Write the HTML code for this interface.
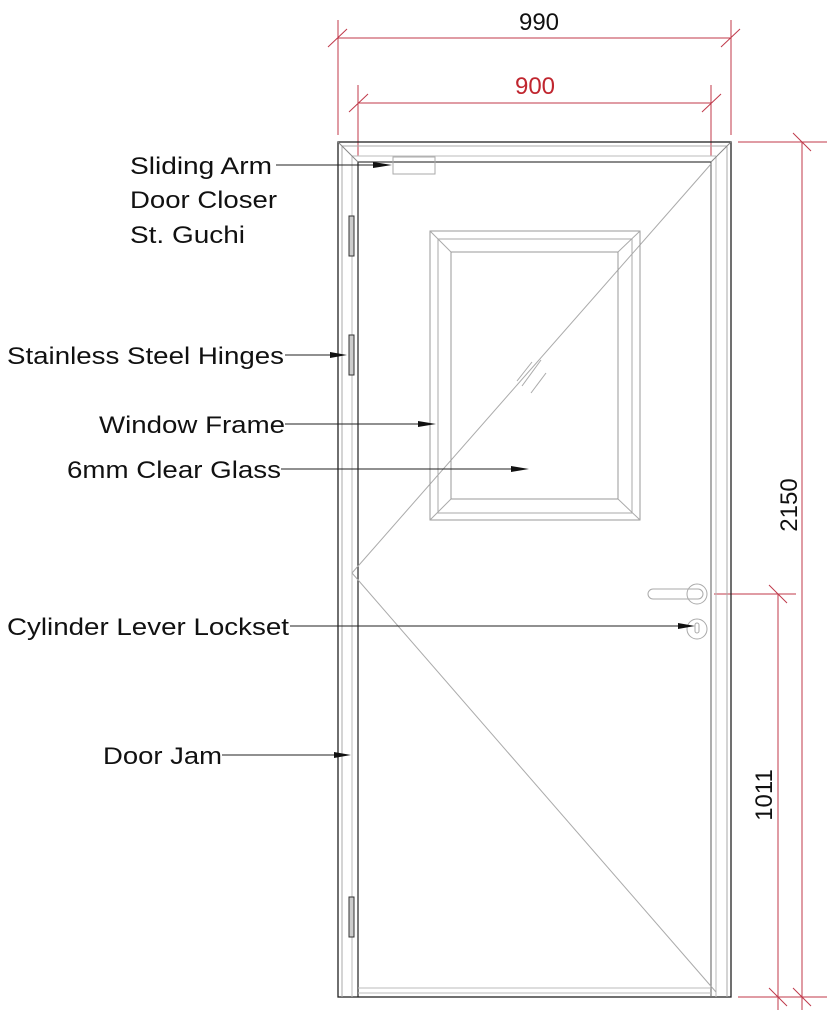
<!DOCTYPE html>
<html><head><meta charset="utf-8"><style>html,body{margin:0;padding:0;background:#fff}svg{display:block}</style></head>
<body>
<svg width="827" height="1024" viewBox="0 0 827 1024" xmlns="http://www.w3.org/2000/svg" font-family="Liberation Sans, sans-serif">
<rect width="827" height="1024" fill="#fff"/>
<g stroke="#c0394a" stroke-width="1" fill="none">
<line x1="338" y1="38" x2="731" y2="38"/>
<line x1="338" y1="20" x2="338" y2="135"/>
<line x1="731" y1="20" x2="731" y2="135"/>
<line x1="328" y1="47" x2="347" y2="29"/>
<line x1="721" y1="47" x2="740" y2="29"/>
<line x1="358" y1="103" x2="711" y2="103"/>
<line x1="358" y1="85" x2="358" y2="156"/>
<line x1="711" y1="85" x2="711" y2="156"/>
<line x1="349" y1="112" x2="368" y2="94"/>
<line x1="702" y1="112" x2="721" y2="94"/>
<line x1="738" y1="142" x2="827" y2="142"/>
<line x1="802" y1="142" x2="802" y2="1010"/>
<line x1="793" y1="133" x2="811" y2="151"/>
<line x1="738" y1="997" x2="827" y2="997"/>
<line x1="793" y1="988" x2="811" y2="1006"/>
<line x1="714" y1="594" x2="796" y2="594"/>
<line x1="778" y1="594" x2="778" y2="1010"/>
<line x1="769" y1="585" x2="787" y2="603"/>
<line x1="769" y1="988" x2="787" y2="1006"/>
</g>
<text x="539" y="30" font-size="24" text-anchor="middle" fill="#111">990</text>
<text x="535" y="94" font-size="24" text-anchor="middle" fill="#c0262f">900</text>
<text transform="translate(797,505) rotate(-90)" font-size="24" text-anchor="middle" fill="#111">2150</text>
<text transform="translate(772,795) rotate(-90)" font-size="24" text-anchor="middle" fill="#111">1011</text>
<g fill="none">
<rect x="338" y="142" width="393" height="855" stroke="#222" stroke-width="1.3"/>
<line x1="342" y1="146" x2="342" y2="997" stroke="#aaa"/>
<line x1="352" y1="156" x2="352" y2="997" stroke="#bbb"/>
<line x1="358" y1="162" x2="358" y2="997" stroke="#222" stroke-width="1.2"/>
<line x1="727" y1="146" x2="727" y2="997" stroke="#aaa"/>
<line x1="716" y1="156" x2="716" y2="997" stroke="#bbb"/>
<line x1="711" y1="162" x2="711" y2="997" stroke="#777" stroke-width="1.2"/>
<line x1="342" y1="146" x2="727" y2="146" stroke="#aaa"/>
<line x1="352" y1="156" x2="716" y2="156" stroke="#bbb"/>
<line x1="358" y1="162" x2="711" y2="162" stroke="#444" stroke-width="1.2"/>
<line x1="338" y1="142" x2="358" y2="162" stroke="#888"/>
<line x1="731" y1="142" x2="711" y2="162" stroke="#888"/>
<line x1="358" y1="988" x2="711" y2="988" stroke="#bbb"/>
<line x1="358" y1="993" x2="711" y2="993" stroke="#bbb"/>
<line x1="711" y1="164" x2="352" y2="573" stroke="#aaa"/>
<line x1="352" y1="573" x2="716" y2="992" stroke="#aaa"/>
<rect x="430" y="231" width="210" height="289" stroke="#999"/>
<rect x="438" y="239" width="194" height="274" stroke="#aaa"/>
<rect x="451" y="252" width="167" height="247" stroke="#999"/>
<line x1="430" y1="231" x2="451" y2="252" stroke="#aaa"/>
<line x1="640" y1="231" x2="618" y2="252" stroke="#aaa"/>
<line x1="430" y1="520" x2="451" y2="499" stroke="#aaa"/>
<line x1="640" y1="520" x2="618" y2="499" stroke="#aaa"/>
<line x1="517" y1="381" x2="532" y2="362" stroke="#aaa"/>
<line x1="522" y1="386" x2="541" y2="360" stroke="#aaa"/>
<line x1="531" y1="393" x2="546" y2="373" stroke="#aaa"/>
<rect x="393" y="157" width="42" height="17" stroke="#aaa"/>
<rect x="349" y="216" width="5" height="40" stroke="#333" fill="#ccc"/>
<rect x="349" y="335" width="5" height="40" stroke="#333" fill="#ccc"/>
<rect x="349" y="897" width="5" height="40" stroke="#333" fill="#ccc"/>
<rect x="648" y="589" width="55" height="10" rx="5" stroke="#aaa"/>
<circle cx="697" cy="594" r="10" stroke="#aaa"/>
<circle cx="697" cy="629" r="10" stroke="#aaa"/>
<rect x="695" y="623" width="4" height="10" rx="2" stroke="#aaa"/>
</g>
<g stroke="#222" stroke-width="1">
<line x1="276" y1="165" x2="385" y2="165"/>
<line x1="285" y1="355" x2="338" y2="355"/>
<line x1="285" y1="424" x2="422" y2="424"/>
<line x1="281" y1="469" x2="515" y2="469"/>
<line x1="290" y1="626" x2="687" y2="626"/>
<line x1="222" y1="755" x2="340" y2="755"/>
</g>
<g fill="#111">
<polygon points="373,162 392,165 373,168"/>
<polygon points="330,352 347,355 330,358"/>
<polygon points="418,421 436,424 418,427"/>
<polygon points="511,466 529,469 511,472"/>
<polygon points="678,623 695,626 678,629"/>
<polygon points="334,752 351,755 334,758"/>
</g>
<g font-size="24" fill="#111">
<text x="130" y="174" textLength="142" lengthAdjust="spacingAndGlyphs">Sliding Arm</text>
<text x="130" y="208" textLength="147" lengthAdjust="spacingAndGlyphs">Door Closer</text>
<text x="130" y="243" textLength="115" lengthAdjust="spacingAndGlyphs">St. Guchi</text>
<text x="7" y="364" textLength="277" lengthAdjust="spacingAndGlyphs">Stainless Steel Hinges</text>
<text x="99" y="433" textLength="186" lengthAdjust="spacingAndGlyphs">Window Frame</text>
<text x="67" y="478" textLength="214" lengthAdjust="spacingAndGlyphs">6mm Clear Glass</text>
<text x="7" y="635" textLength="282" lengthAdjust="spacingAndGlyphs">Cylinder Lever Lockset</text>
<text x="103" y="764" textLength="119" lengthAdjust="spacingAndGlyphs">Door Jam</text>
</g>
</svg>
</body></html>
